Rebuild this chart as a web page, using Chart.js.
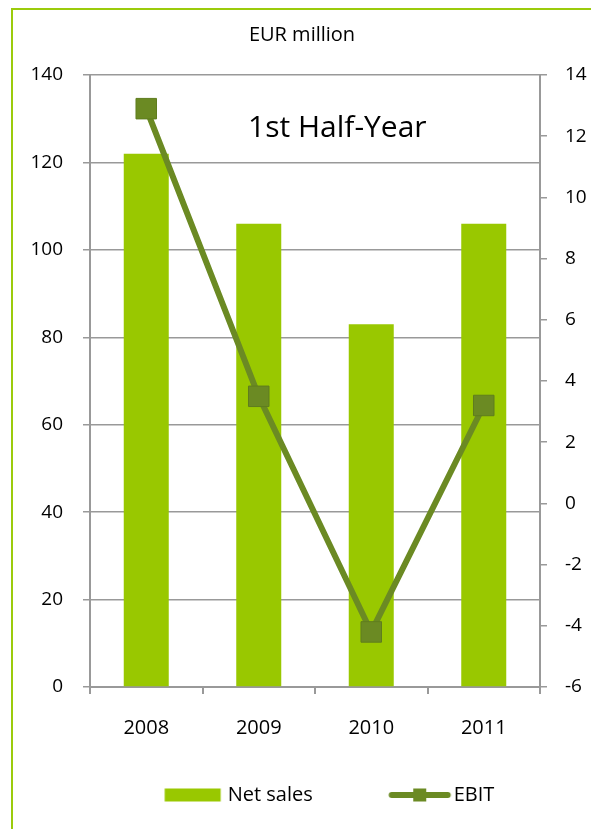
<!DOCTYPE html>
<html lang="en">
<head>
    <meta charset="UTF-8">
    <title>Net sales and EBIT - 1st Half-Year</title>
    <script src="https://cdn.jsdelivr.net/npm/chart.js"></script>
    <style>
        html, body { margin: 0; padding: 0; background: #fff; }
        .wrap { position: relative; width: 591px; height: 829px; overflow: hidden; }
        .frame {
            position: absolute; left: 11px; top: 8px; width: 700px; height: 900px;
            border-left: 2px solid #9bcb0c; border-top: 2px solid #9bcb0c;
        }
        canvas { position: absolute; left: 0; top: 0; }
    </style>
</head>
<body>
    <div class="wrap">
        <div class="frame"></div>
        <canvas id="chart" width="591" height="829"></canvas>
    </div>

    <script>
        // data
        const years = ['2008', '2009', '2010', '2011'];
        const netSales = [122, 106, 83, 106];
        const ebit = [12.9, 3.5, -4.2, 3.2];

        const barColor = '#99c800';
        const lineColor = '#6b8a23';
        const axisGrey = '#999999';
        const fontFamily = '"Open Sans", "Liberation Sans", sans-serif';

        // legend keys: drawn off-centre in a wide image so they sit next to their text
        function boxKey() {
            const c = document.createElement('canvas');
            c.width = 140; c.height = 20;
            const g = c.getContext('2d');
            g.fillStyle = barColor;
            g.fillRect(77.5, 3.5, 56, 13);
            return c;
        }
        function lineKey() {
            const c = document.createElement('canvas');
            c.width = 140; c.height = 20;
            const g = c.getContext('2d');
            g.strokeStyle = lineColor;
            g.lineWidth = 6;
            g.lineCap = 'round';
            g.beginPath();
            g.moveTo(78.5, 10); g.lineTo(134.5, 10);
            g.stroke();
            g.fillStyle = lineColor;
            g.fillRect(100, 3.5, 13, 13);
            return c;
        }
        const keys = [boxKey(), lineKey()];

        // captions: "EUR million" above the plot, "1st Half-Year" inside it
        const captions = {
            id: 'captions',
            afterDraw(chart) {
                const ctx = chart.ctx;
                ctx.save();
                ctx.fillStyle = '#000';
                ctx.textAlign = 'center';
                ctx.textBaseline = 'middle';
                ctx.font = '20px ' + fontFamily;
                ctx.fillText('EUR million', 302, 35);
                ctx.textAlign = 'left';
                ctx.font = '30px ' + fontFamily;
                ctx.fillText('1st Half-Year', 248, 128);
                ctx.restore();
            }
        };

        const ctx = document.getElementById('chart').getContext('2d');
        new Chart(ctx, {
            type: 'bar',
            data: {
                labels: years,
                datasets: [{
                    type: 'bar',
                    label: 'Net sales',
                    data: netSales,
                    backgroundColor: barColor,
                    yAxisID: 'y',
                    barPercentage: 0.4,
                    categoryPercentage: 1,
                    order: 1
                }, {
                    type: 'line',
                    label: 'EBIT',
                    data: ebit,
                    yAxisID: 'y1',
                    borderColor: lineColor,
                    backgroundColor: lineColor,
                    borderWidth: 6,
                    tension: 0,
                    pointStyle: 'rect',
                    pointRadius: 14.5,
                    pointBorderWidth: 1,
                    pointBorderColor: '#5f7d1e',
                    pointBackgroundColor: lineColor,
                    order: 0
                }]
            },
            options: {
                responsive: false,
                animation: false,
                layout: { padding: { top: 75, left: 0, right: 0, bottom: 14 } },
                scales: {
                    x: {
                        offset: true,
                        afterFit: s => { s.height = 88; },
                        grid: { drawOnChartArea: false, drawTicks: true, tickLength: 7, color: axisGrey, lineWidth: 2, offset: true },
                        border: { display: true, color: axisGrey, width: 2 },
                        ticks: { color: '#000', font: { family: fontFamily, size: 20 }, padding: 22 }
                    },
                    y: {
                        position: 'left',
                        min: 0, max: 140,
                        afterFit: s => { s.width = 90; },
                        ticks: { stepSize: 20, color: '#000', font: { family: fontFamily, size: 19 }, padding: 20 },
                        grid: { color: axisGrey, lineWidth: 1.5, tickLength: 7 },
                        border: { display: true, color: axisGrey, width: 2 }
                    },
                    y1: {
                        position: 'right',
                        min: -6, max: 14,
                        afterFit: s => { s.width = 51; },
                        ticks: { stepSize: 2, color: '#000', font: { family: fontFamily, size: 19 }, padding: 18 },
                        grid: { drawOnChartArea: false, color: axisGrey, lineWidth: 1.5, tickLength: 7 },
                        border: { display: true, color: axisGrey, width: 2 }
                    }
                },
                plugins: {
                    tooltip: { enabled: false },
                    legend: {
                        position: 'bottom',
                        labels: {
                            usePointStyle: true,
                            pointStyleWidth: 121,
                            padding: 10,
                            color: '#000',
                            font: { family: fontFamily, size: 20 },
                            sort: (a, b) => a.datasetIndex - b.datasetIndex,
                            generateLabels(chart) {
                                const items = Chart.defaults.plugins.legend.labels.generateLabels(chart);
                                return items.map(it => Object.assign(it, { pointStyle: keys[it.datasetIndex] }));
                            }
                        }
                    }
                }
            },
            plugins: [captions]
        });
    </script>
</body>
</html>
